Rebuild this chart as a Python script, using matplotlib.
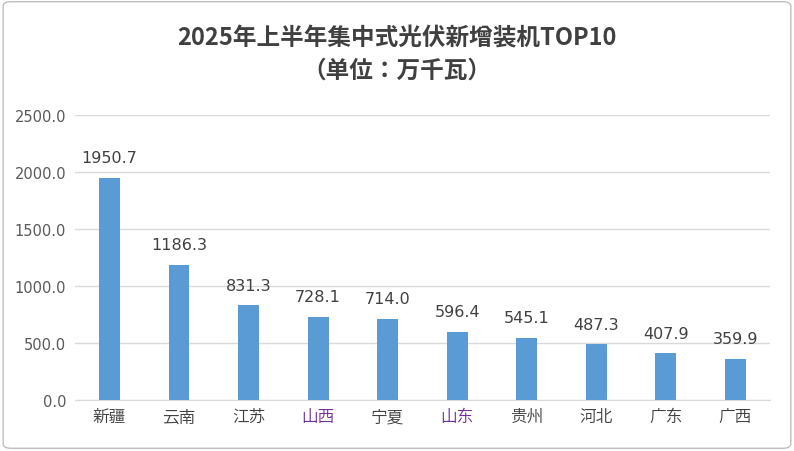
import matplotlib
matplotlib.use("Agg")
import matplotlib.pyplot as plt
from matplotlib import font_manager as fm
from matplotlib.patches import FancyBboxPatch

categories = ["新疆", "云南", "江苏", "山西", "宁夏", "山东", "贵州", "河北", "广东", "广西"]
values = [1950.7, 1186.3, 831.3, 728.1, 714.0, 596.4, 545.1, 487.3, 407.9, 359.9]
label_colors = ["#404040", "#404040", "#404040", "#7030A0", "#404040", "#7030A0", "#404040", "#404040", "#404040", "#404040"]
yticks = [0, 500, 1000, 1500, 2000, 2500]

cjk = None
cjk_bold = None
for f in fm.findSystemFonts():
    n = f.lower()
    if "notosanscjk" in n.replace("-", "").replace("_", "") or "noto sans cjk" in n:
        if "bold" in n and cjk_bold is None:
            cjk_bold = f
        elif "regular" in n and cjk is None:
            cjk = f
        elif cjk is None:
            cjk = f
for name in ["Noto Sans CJK SC", "Noto Sans CJK JP"]:
    if cjk is None:
        try:
            cjk = fm.findfont(fm.FontProperties(family=name), fallback_to_default=False)
        except Exception:
            pass
fp = fm.FontProperties(fname=cjk, size=12) if cjk else fm.FontProperties(family="Noto Sans CJK SC", size=12)
if cjk_bold:
    tp = fm.FontProperties(fname=cjk_bold, size=17)
elif cjk:
    tp = fm.FontProperties(fname=cjk, size=17, weight="bold")
else:
    tp = fm.FontProperties(family="Noto Sans CJK SC", size=17, weight="bold")

fig = plt.figure(figsize=(7.94, 4.52), dpi=100)
fig.patches.append(FancyBboxPatch((0.004, 0.006), 0.992, 0.988, boxstyle="round,pad=0,rounding_size=0.01",
                                  transform=fig.transFigure, fill=False, edgecolor="#BFBFBF", linewidth=1))
ax = fig.add_axes([0.094, 0.113, 0.876, 0.630])
x = range(len(categories))
ax.bar(x, values, width=0.3, color="#5B9BD5", zorder=3)
for i, v in zip(x, values):
    ax.text(i, v + 110, f"{v:.1f}", ha="center", va="bottom", fontsize=11.5, color="#404040", family="DejaVu Sans")
ax.set_ylim(0, 2500)
ax.set_xlim(-0.5, len(categories) - 0.5)
ax.set_yticks(yticks)
ax.set_yticklabels([f"{t:.1f}" for t in yticks], fontsize=10.5, color="#595959", family="DejaVu Sans")
ax.set_xticks(list(x))
ax.set_xticklabels(categories, fontproperties=fp)
for lab, c in zip(ax.get_xticklabels(), label_colors):
    lab.set_color(c)
ax.yaxis.grid(True, color="#D9D9D9", linewidth=1, zorder=0)
for s in ["top", "right", "left"]:
    ax.spines[s].set_visible(False)
ax.spines["bottom"].set_color("#D9D9D9")
ax.tick_params(length=0, pad=6)
fig.text(0.5, 0.915, "2025年上半年集中式光伏新增装机TOP10", ha="center", va="center", fontproperties=tp, color="#404040")
fig.text(0.5, 0.843, "（单位：万千瓦）", ha="center", va="center", fontproperties=tp, color="#404040")
fig.savefig("out.png", dpi=100)
